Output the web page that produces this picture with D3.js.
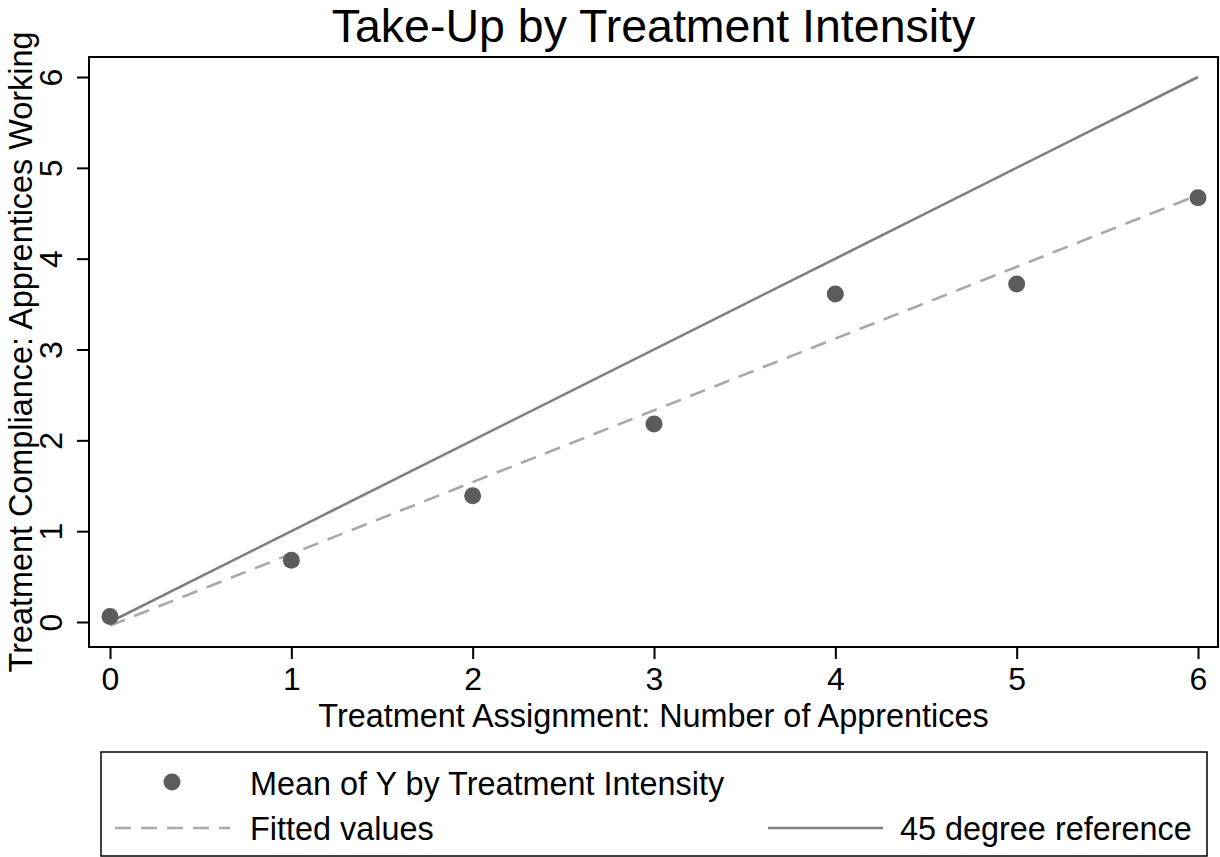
<!DOCTYPE html>
<html>
<head>
<meta charset="utf-8">
<script src="https://cdn.jsdelivr.net/npm/d3@7"></script>
<style>
  html, body { margin: 0; padding: 0; background: #fff; }
  svg { display: block; }
  text { font-family: "Liberation Sans", Arial, Helvetica, sans-serif; fill: #000; }
</style>
</head>
<body>
<svg id="chart" width="1220" height="857"></svg>
<script>
// ---- data ----
const intensity = [0, 1, 2, 3, 4, 5, 6];
const meanY = [0.06, 0.68, 1.39, 2.18, 3.61, 3.72, 4.67];
const fittedX = [0, 6];
const fittedY = [-0.04, 4.70];
const refX = [0, 6];
const refY = [0, 6];
const xTicks = [0, 1, 2, 3, 4, 5, 6];
const yTicks = [0, 1, 2, 3, 4, 5, 6];
const titleText = "Take-Up by Treatment Intensity";
const xTitle = "Treatment Assignment: Number of Apprentices";
const yTitle = "Treatment Compliance: Apprentices Working";
const legendLabels = ["Mean of Y by Treatment Intensity", "Fitted values", "45 degree reference"];

// ---- layout ----
const frame = {left: 89, top: 57, right: 1218, bottom: 647};
const x = d3.scaleLinear().domain([0, 6]).range([110, 1198]);
const y = d3.scaleLinear().domain([0, 6]).range([622, 77]);

const svg = d3.select("#chart");

const dotColor = "#5c5c5c";
const refColor = "#7e7e7e";
const fitColor = "#a8a8a8";

// title
svg.append("text")
  .attr("x", (frame.left + frame.right) / 2)
  .attr("y", 42)
  .attr("text-anchor", "middle")
  .style("font-size", "46.5px")
  .text(titleText);

// axes
const xAxis = d3.axisBottom(x).tickValues(xTicks).tickSize(12).tickFormat(d3.format("d"));
const gx = svg.append("g").attr("transform", `translate(0,${frame.bottom})`).call(xAxis);
gx.select(".domain").remove();
gx.selectAll(".tick line").attr("stroke", "#000").attr("stroke-width", 2);
gx.selectAll(".tick text").style("font-size", "32px").attr("dy", null).attr("y", 43);

const yAxis = d3.axisLeft(y).tickValues(yTicks).tickSize(12).tickFormat(d3.format("d"));
const gy = svg.append("g").attr("transform", `translate(${frame.left},0)`).call(yAxis);
gy.select(".domain").remove();
gy.selectAll(".tick line").attr("stroke", "#000").attr("stroke-width", 2);
gy.selectAll(".tick text")
  .style("font-size", "32px")
  .attr("x", null).attr("dy", null)
  .attr("text-anchor", "middle")
  .attr("transform", "translate(-27,0) rotate(-90)");

// frame
svg.append("rect")
  .attr("x", frame.left).attr("y", frame.top)
  .attr("width", frame.right - frame.left).attr("height", frame.bottom - frame.top)
  .attr("fill", "none").attr("stroke", "#000").attr("stroke-width", 2);

// axis titles
svg.append("text")
  .attr("x", (frame.left + frame.right) / 2)
  .attr("y", 727)
  .attr("text-anchor", "middle")
  .style("font-size", "32.4px")
  .text(xTitle);

svg.append("text")
  .attr("transform", `translate(32,${(frame.top + frame.bottom) / 2}) rotate(-90)`)
  .attr("text-anchor", "middle")
  .style("font-size", "32.4px")
  .text(yTitle);

// lines
const line = d3.line().x(d => x(d[0])).y(d => y(d[1]));
svg.append("path")
  .datum(refX.map((v, i) => [v, refY[i]]))
  .attr("d", line).attr("fill", "none")
  .attr("stroke", refColor).attr("stroke-width", 2.6);

svg.append("path")
  .datum(fittedX.map((v, i) => [v, fittedY[i]]))
  .attr("d", line).attr("fill", "none")
  .attr("stroke", fitColor).attr("stroke-width", 2.6)
  .attr("stroke-dasharray", "16,10");

// points
svg.append("g").selectAll("circle")
  .data(intensity.map((v, i) => [v, meanY[i]]))
  .join("circle")
  .attr("cx", d => x(d[0])).attr("cy", d => y(d[1]))
  .attr("r", 8.5).attr("fill", dotColor);

// legend
const lg = svg.append("g");
lg.append("rect")
  .attr("x", 101).attr("y", 752).attr("width", 1106).attr("height", 104)
  .attr("fill", "#fff").attr("stroke", "#000").attr("stroke-width", 1.5);
lg.append("circle").attr("cx", 172).attr("cy", 782).attr("r", 8.5).attr("fill", dotColor);
lg.append("text").attr("x", 250).attr("y", 795).style("font-size", "32.4px").text(legendLabels[0]);
lg.append("line").attr("x1", 115).attr("x2", 230).attr("y1", 828).attr("y2", 828)
  .attr("stroke", fitColor).attr("stroke-width", 2.6).attr("stroke-dasharray", "16,10");
lg.append("text").attr("x", 250).attr("y", 840).style("font-size", "32.4px").text(legendLabels[1]);
lg.append("line").attr("x1", 768).attr("x2", 883).attr("y1", 828).attr("y2", 828)
  .attr("stroke", refColor).attr("stroke-width", 2.6);
lg.append("text").attr("x", 900).attr("y", 840).style("font-size", "32.4px").text(legendLabels[2]);
</script>
</body>
</html>
